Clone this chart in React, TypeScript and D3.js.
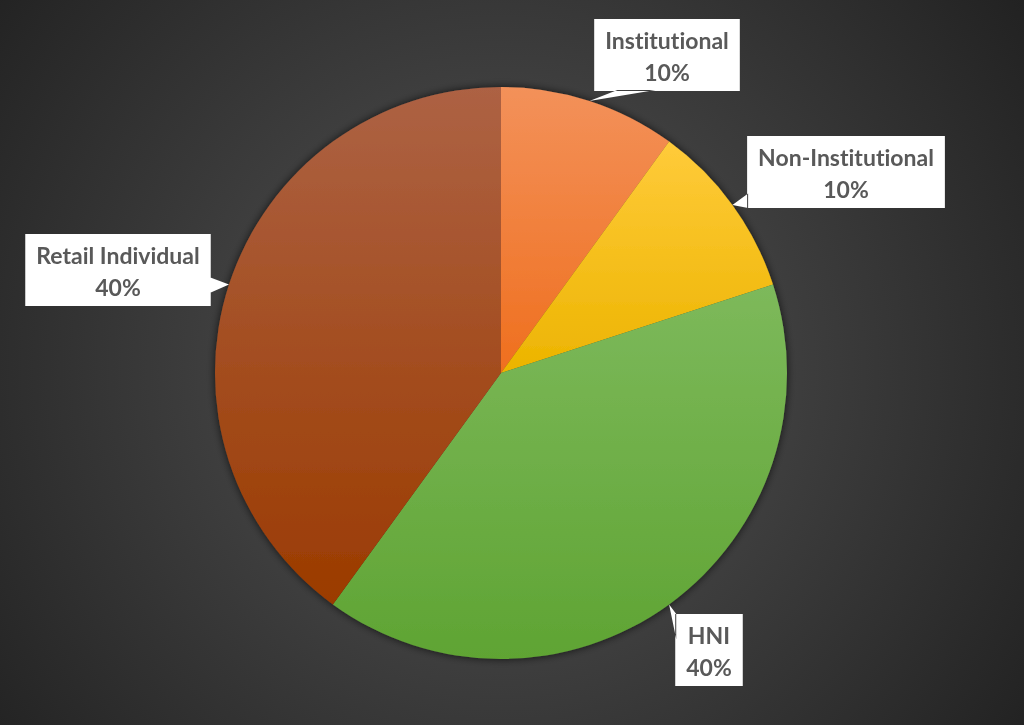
import React, { useEffect, useRef } from 'react';
import * as d3 from 'd3';

const categories = ['Institutional', 'Non-Institutional', 'HNI', 'Retail Individual'];
const shares = [10, 10, 40, 40];
const topColors = ['#F3915A', '#FFCB3A', '#7DB95B', '#AD6244'];
const bottomColors = ['#EF6F1E', '#ECB400', '#5FA433', '#9B3B00'];

// callout placement: box centre and which box edge the pointer leaves from
const callouts = [
  { cx: 667, cy: 55, side: 'bottom', b0: 0.16, b1: 0.42 },
  { cx: 846, cy: 172, side: 'left', b0: 0.8, b1: 1.0 },
  { cx: 709, cy: 650, side: 'left', b0: 0.0, b1: 0.35 },
  { cx: 118, cy: 270, side: 'right', b0: 0.6, b1: 0.82 },
];

const W = 1024;
const H = 725;

const App: React.FC = () => {
  const svgRef = useRef<SVGSVGElement>(null);

  useEffect(() => {
    if (!svgRef.current) return;
    const svg = d3.select(svgRef.current);
    svg.selectAll('*').remove();
    svg.attr('width', W).attr('height', H).attr('viewBox', `0 0 ${W} ${H}`);

    const defs = svg.append('defs');

    // background
    const bg = defs.append('radialGradient')
      .attr('id', 'bgGrad')
      .attr('gradientUnits', 'userSpaceOnUse')
      .attr('cx', 500).attr('cy', 370).attr('r', 640);
    bg.append('stop').attr('offset', '0%').attr('stop-color', '#555555');
    bg.append('stop').attr('offset', '100%').attr('stop-color', '#222222');
    svg.append('rect').attr('width', W).attr('height', H).attr('fill', 'url(#bgGrad)');

    const shadow = defs.append('filter').attr('id', 'pieShadow')
      .attr('x', '-10%').attr('y', '-10%').attr('width', '120%').attr('height', '120%');
    shadow.append('feDropShadow')
      .attr('dx', 0).attr('dy', 0).attr('stdDeviation', 4)
      .attr('flood-color', '#000').attr('flood-opacity', 0.7);

    categories.forEach((_, i) => {
      const g = defs.append('linearGradient')
        .attr('id', `slice${i}`)
        .attr('x1', 0).attr('y1', 0).attr('x2', 0).attr('y2', 1);
      g.append('stop').attr('offset', '0%').attr('stop-color', topColors[i]);
      g.append('stop').attr('offset', '100%').attr('stop-color', bottomColors[i]);
    });

    const cx = 501;
    const cy = 373;
    const radius = 286;

    const pie = d3.pie<number>().sort(null).value(d => d);
    const arcs = pie(shares);
    const arc = d3.arc<d3.PieArcDatum<number>>().innerRadius(0).outerRadius(radius);
    const tipArc = d3.arc<d3.PieArcDatum<number>>().innerRadius(radius * 2).outerRadius(0);

    const pieG = svg.append('g')
      .attr('transform', `translate(${cx},${cy})`)
      .attr('filter', 'url(#pieShadow)');

    pieG.selectAll('path')
      .data(arcs)
      .join('path')
      .attr('d', arc)
      .attr('fill', (_, i) => `url(#slice${i})`);

    // callouts
    const labelG = svg.append('g');
    arcs.forEach((a, i) => {
      const c = callouts[i];
      // centroid of an arc with inner=2r, outer=0 sits at radius r on the mid angle
      const [tx, ty] = tipArc.centroid(a);
      const tipX = cx + tx;
      const tipY = cy + ty;

      const g = labelG.append('g');
      const box = g.append('path').attr('fill', '#ffffff');
      const text = g.append('text')
        .attr('text-anchor', 'middle')
        .attr('font-family', 'Lato, "Open Sans", sans-serif')
        .attr('font-weight', 'bold')
        .attr('font-size', 23)
        .style('font-variant-ligatures', 'none')
        .attr('fill', '#595959');
      text.append('tspan').attr('x', c.cx).attr('y', c.cy - 6).text(categories[i]);
      text.append('tspan').attr('x', c.cx).attr('y', c.cy + 26).text(`${shares[i]}%`);

      const tw = Math.max(
        ...Array.from((text.node() as SVGTextElement).querySelectorAll('tspan')).map(
          t => (t as SVGTSpanElement).getComputedTextLength()
        )
      );
      const bw = tw + 22;
      const bh = 72;
      const x0 = c.cx - bw / 2;
      const y0 = c.cy - bh / 2;
      const x1 = x0 + bw;
      const y1 = y0 + bh;

      const p = d3.path();
      p.rect(x0, y0, bw, bh);
      if (c.side === 'bottom') {
        p.moveTo(x0 + bw * c.b0, y1 - 1);
        p.lineTo(tipX, tipY);
        p.lineTo(x0 + bw * c.b1, y1 - 1);
        p.closePath();
      } else if (c.side === 'left') {
        p.moveTo(x0 + 1, y0 + bh * c.b0);
        p.lineTo(tipX, tipY);
        p.lineTo(x0 + 1, y0 + bh * c.b1);
        p.closePath();
      } else {
        p.moveTo(x1 - 1, y0 + bh * c.b0);
        p.lineTo(tipX, tipY);
        p.lineTo(x1 - 1, y0 + bh * c.b1);
        p.closePath();
      }
      box.attr('d', p.toString());
    });
  }, []);

  return (
    <svg
      ref={svgRef}
      style={{ position: 'fixed', left: 0, top: 0, display: 'block' }}
    />
  );
};

export default App;
